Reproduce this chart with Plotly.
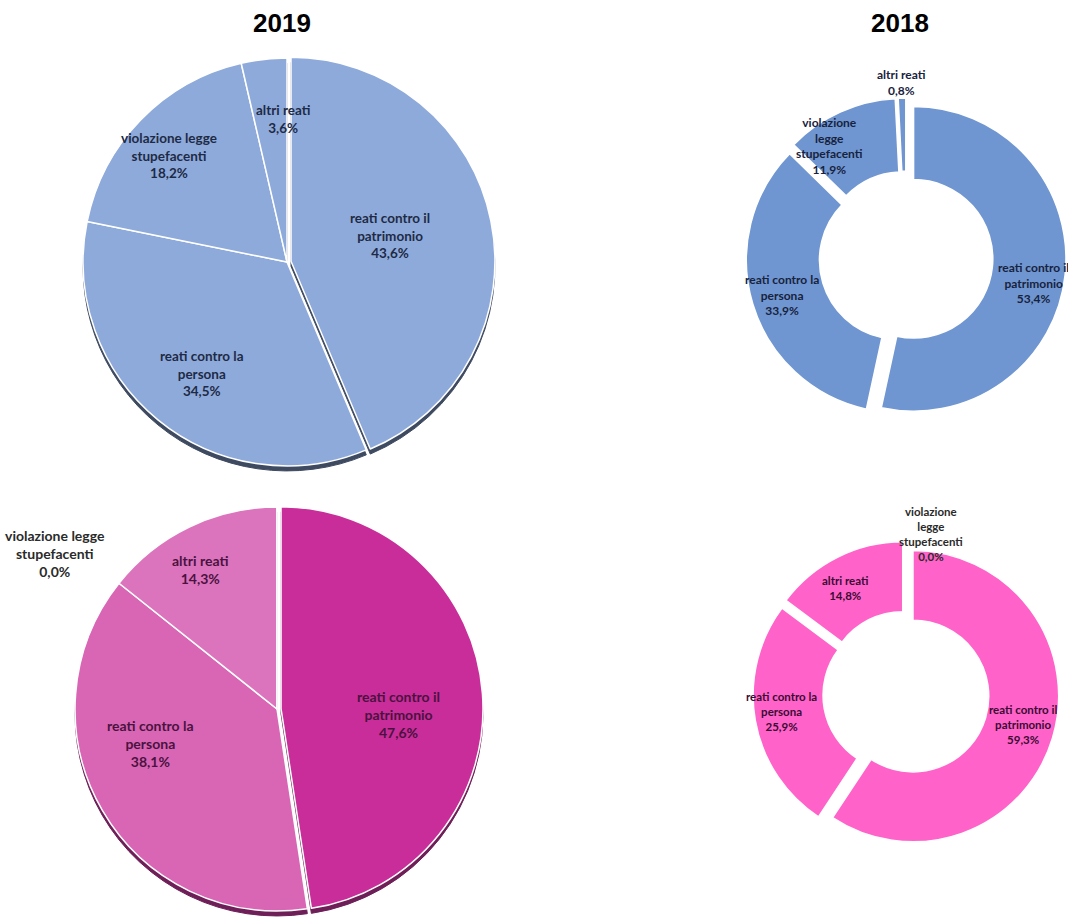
import math
import plotly.graph_objects as go

W, H = 1068, 920

# crime categories
CAT_PATRIMONIO = "reati contro il<br>patrimonio"
CAT_PERSONA = "reati contro la<br>persona"
CAT_STUPEFACENTI = "violazione legge<br>stupefacenti"
CAT_ALTRI = "altri reati"

# 2019 (blue): share of offences, %
labels_2019_blue = [CAT_PATRIMONIO, CAT_PERSONA, CAT_STUPEFACENTI, CAT_ALTRI]
values_2019_blue = [43.6, 34.5, 18.2, 3.6]

# 2018 (blue)
labels_2018_blue = [CAT_PATRIMONIO, CAT_PERSONA, "violazione<br>legge<br>stupefacenti", CAT_ALTRI]
values_2018_blue = [53.4, 33.9, 11.9, 0.8]

# 2019 (pink)
labels_2019_pink = [CAT_PATRIMONIO, CAT_PERSONA, CAT_ALTRI, CAT_STUPEFACENTI]
values_2019_pink = [47.6, 38.1, 14.3, 0.0]

# 2018 (pink)
labels_2018_pink = [CAT_PATRIMONIO, CAT_PERSONA, CAT_ALTRI, "violazione<br>legge<br>stupefacenti"]
values_2018_pink = [59.3, 25.9, 14.8, 0.0]

titles = ["2019", "2018"]


def fmt(v):
    return f"{v:.1f}".replace(".", ",") + "%"


def domain(cx, cy, half):
    return dict(x=[(cx - half) / W, (cx + half) / W],
                y=[1 - (cy + half) / H, 1 - (cy - half) / H])


fig = go.Figure()
annotations = []


def add_pie(values, labels, cx, cy, half, colors, pull, hole, font_size,
            text_colors, label_pos, shadow=None):
    max_pull = max(pull)
    r = half / (1 + max_pull)
    if shadow is not None:
        fig.add_trace(go.Pie(
            values=values, labels=labels, sort=False, direction="clockwise",
            rotation=0, hole=hole, pull=pull, textinfo="none", hoverinfo="skip",
            marker=dict(colors=[shadow] * len(values), line=dict(color=shadow, width=1)),
            domain=domain(cx, cy + 5, half), showlegend=False,
        ))
    fig.add_trace(go.Pie(
        values=values, labels=labels, sort=False, direction="clockwise",
        rotation=0, hole=hole, pull=pull, textinfo="none",
        marker=dict(colors=colors, line=dict(color="white", width=1.5)),
        domain=domain(cx, cy, half), showlegend=False,
    ))
    total = sum(values)
    cum = 0.0
    for i, v in enumerate(values):
        mid = cum + v / 2
        cum += v
        f, dtheta = label_pos[i]
        theta = math.radians(360 * mid / total + dtheta)
        x = cx + f * r * math.sin(theta)
        y = cy - f * r * math.cos(theta)
        annotations.append(dict(
            x=x / W, y=1 - y / H, xref="paper", yref="paper",
            text=f"<b>{labels[i]}<br>{fmt(v)}</b>", showarrow=False,
            font=dict(family="Lato", size=font_size, color=text_colors[i]),
            align="center", xanchor="center", yanchor="middle",
        ))


# 2019 blue pie
add_pie(values_2019_blue, labels_2019_blue, 287, 262, 208,
        ["#8EAADB"] * 4, [0.02, 0, 0, 0], 0, 13.5,
        ["#1E2A45"] * 4,
        [(0.52, -3), (0.69, -2), (0.78, -2), (0.70, 5)],
        shadow="#3E4A60")

# 2018 blue donut
add_pie(values_2018_blue, labels_2018_blue, 906, 258, 160,
        ["#6F96D1"] * 4, [0.05] * 4, 0.52, 12,
        ["#17223D"] * 4,
        [(0.85, 5), (0.85, 0), (0.89, -10), (1.15, 0)])

# 2019 pink pie
add_pie(values_2019_pink, labels_2019_pink, 277, 709, 206,
        ["#C92D99", "#D966B4", "#DC74BD", "#DC74BD"], [0.02, 0, 0, 0], 0, 14,
        ["#4A1240", "#4A1240", "#4A1240", "#2A2A2A"],
        [(0.60, 7), (0.65, 15), (0.79, -3), (1.34, -55)],
        shadow="#6E1F58")

# 2018 pink donut
add_pie(values_2018_pink, labels_2018_pink, 906, 694, 153,
        ["#FF63C9"] * 4, [0.05] * 4, 0.52, 11.5,
        ["#3A0A33", "#3A0A33", "#3A0A33", "#2A2A2A"],
        [(0.83, -2), (0.86, 2), (0.84, -3), (1.11, 9)])

# column titles
for t, cx in zip(titles, [282, 900]):
    annotations.append(dict(
        x=cx / W, y=1 - 23 / H, xref="paper", yref="paper", text=f"<b>{t}</b>",
        showarrow=False, font=dict(family="Liberation Sans, Arial", size=26, color="black"),
        xanchor="center", yanchor="middle",
    ))

fig.update_layout(
    width=W, height=H, margin=dict(l=0, r=0, t=0, b=0),
    paper_bgcolor="white", plot_bgcolor="white",
    annotations=annotations, showlegend=False,
)

fig.write_html("out.html")
